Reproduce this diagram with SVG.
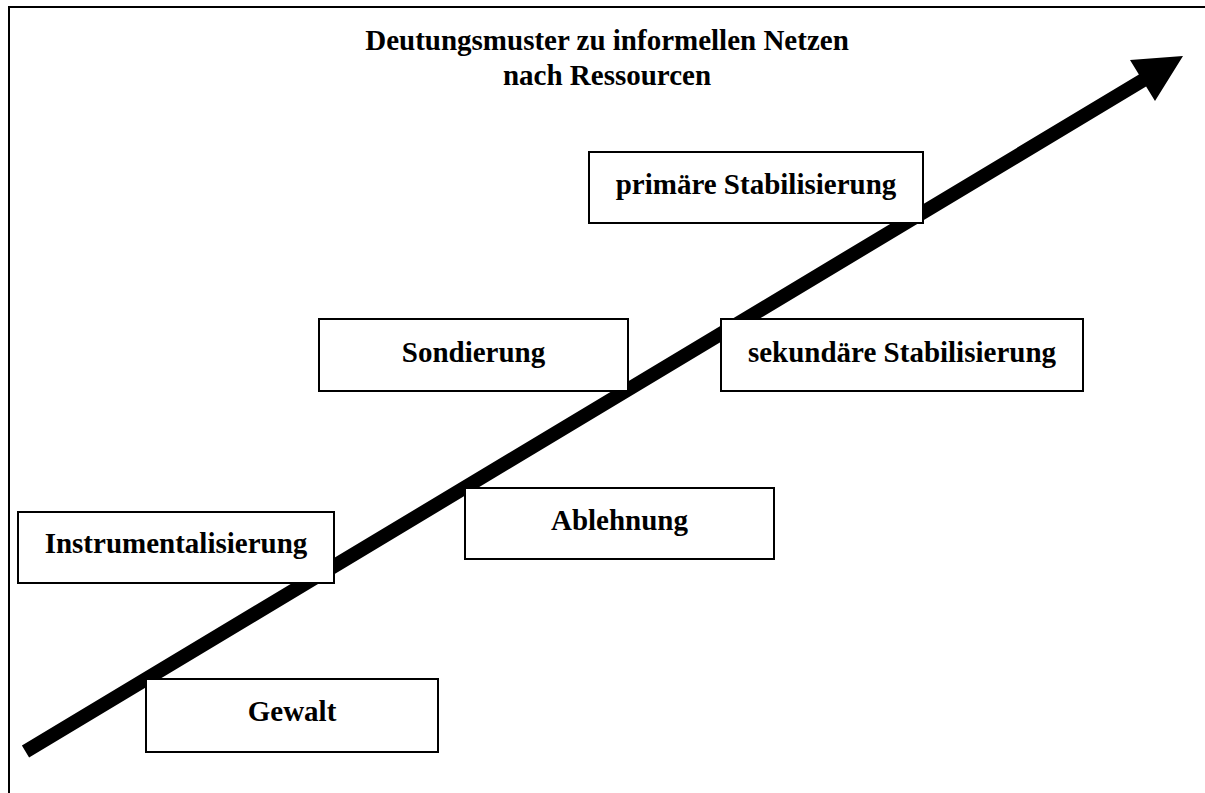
<svg xmlns="http://www.w3.org/2000/svg" width="1205" height="793" viewBox="0 0 1205 793">
<style>
.box{fill:#fff;stroke:#000;stroke-width:2}
.lbl{font-family:"Liberation Serif","Times New Roman",serif;font-weight:bold;font-size:29px;fill:#000;text-anchor:middle}
.frame{fill:none;stroke:#000;stroke-width:2}
</style>
<rect width="1205" height="793" fill="#fff"/>
<g id="frame">
<path class="frame" d="M9,793 V7 H1205"/>
</g>
<g id="title">
<text class="lbl" x="607" y="50">Deutungsmuster zu informellen Netzen</text>
<text class="lbl" x="607" y="85">nach Ressourcen</text>
</g>
<g id="connectors">
<path d="M21.9,745.5 L1138.9,74.5 L1130,60 L1183,56 L1155,101 L1146.1,86.5 L29.1,757.5 Z" fill="#000"/>
</g>
<g id="node-primaer">
<rect class="box" x="589" y="152" width="334" height="71"/>
<text class="lbl" x="756" y="194">primäre Stabilisierung</text>
</g>
<g id="node-sondierung">
<rect class="box" x="319" y="319" width="309" height="72"/>
<text class="lbl" x="473.5" y="362">Sondierung</text>
</g>
<g id="node-sekundaer">
<rect class="box" x="721" y="319" width="362" height="72"/>
<text class="lbl" x="902" y="362">sekundäre Stabilisierung</text>
</g>
<g id="node-ablehnung">
<rect class="box" x="465" y="488" width="309" height="71"/>
<text class="lbl" x="619.5" y="530">Ablehnung</text>
</g>
<g id="node-instrumentalisierung">
<rect class="box" x="18" y="512" width="316" height="71"/>
<text class="lbl" x="176" y="553">Instrumentalisierung</text>
</g>
<g id="node-gewalt">
<rect class="box" x="146" y="679" width="292" height="73"/>
<text class="lbl" x="292" y="721">Gewalt</text>
</g>
</svg>
